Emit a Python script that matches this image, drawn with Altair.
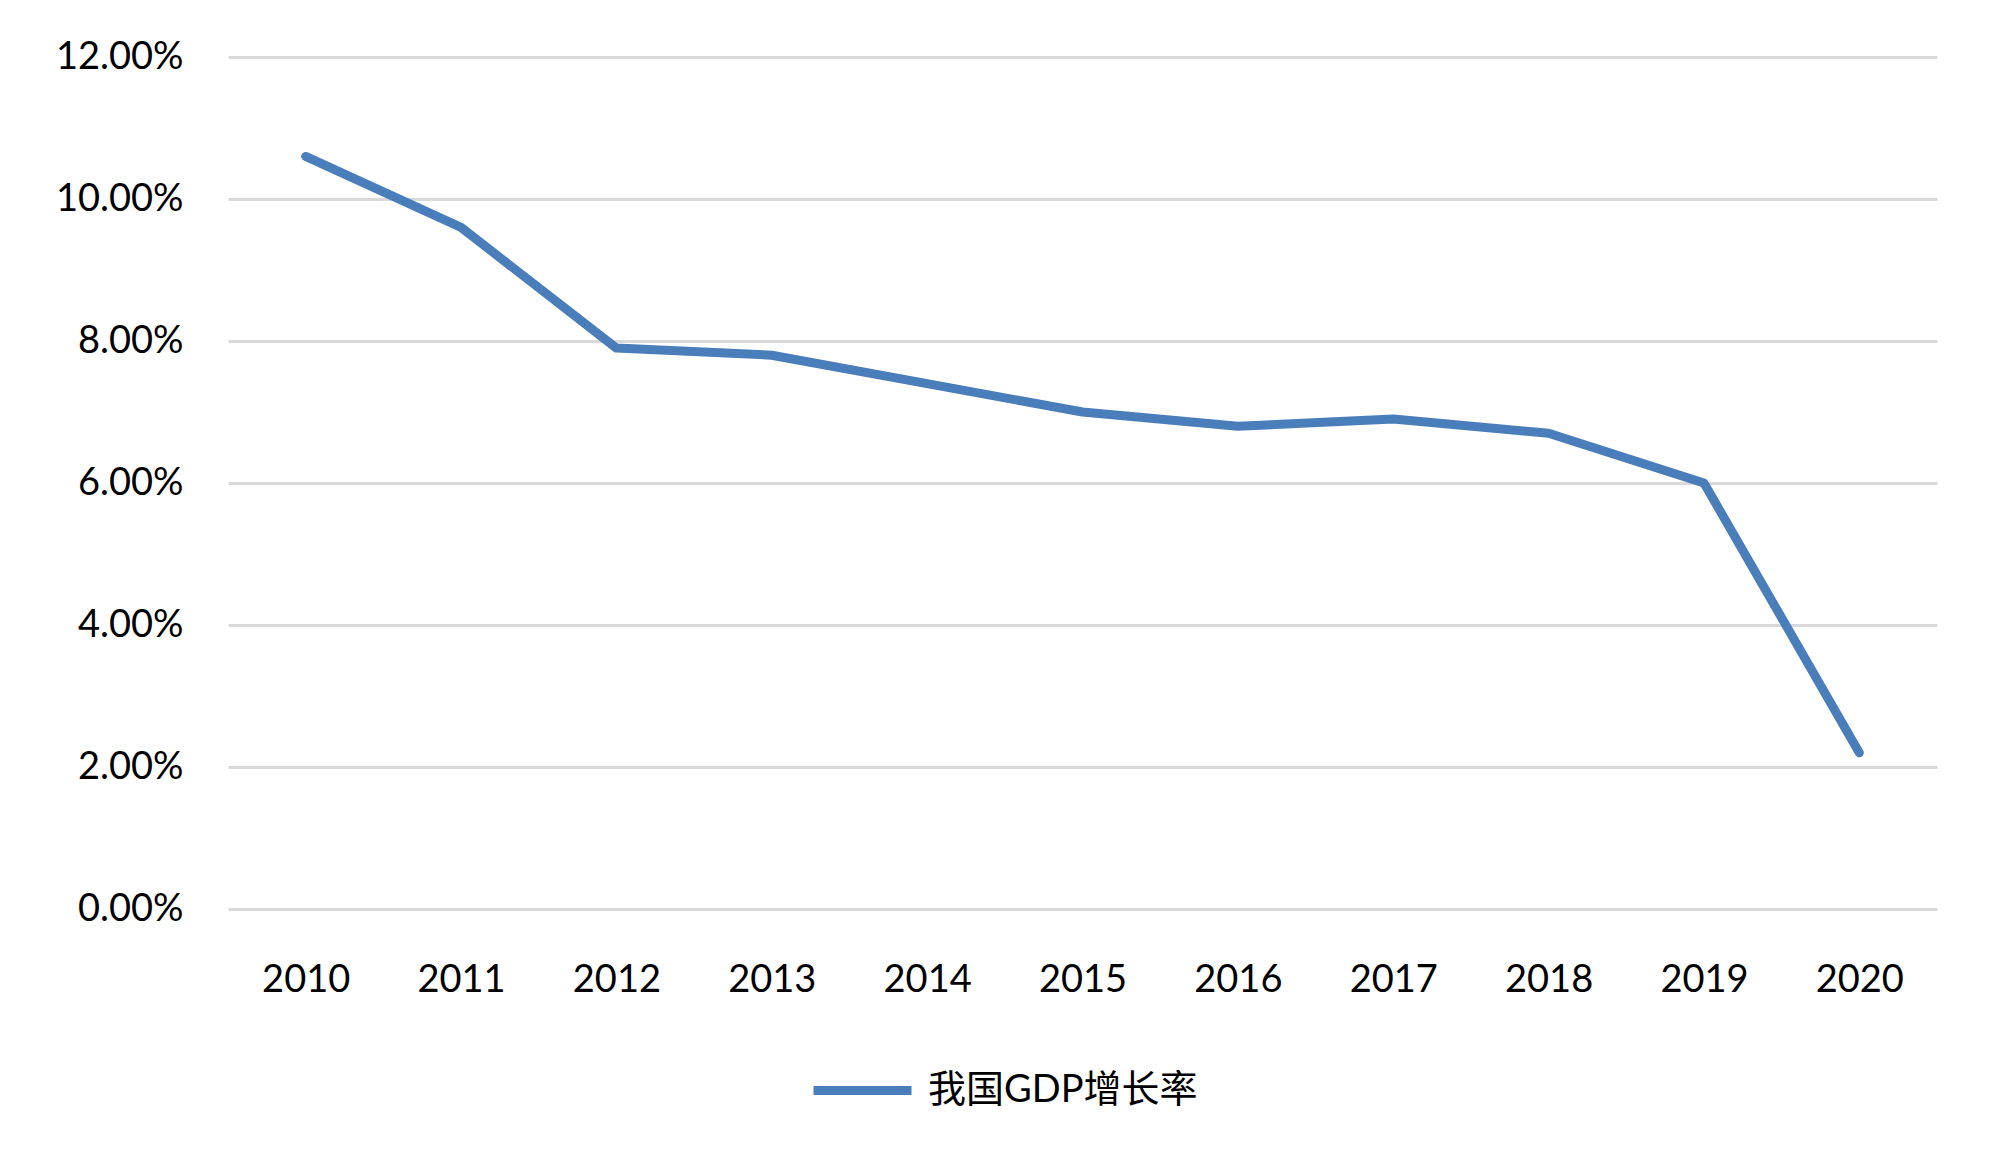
import altair as alt
import pandas as pd

years = ["2010", "2011", "2012", "2013", "2014", "2015", "2016", "2017", "2018", "2019", "2020"]
growth_pct = [10.6, 9.6, 7.9, 7.8, 7.4, 7.0, 6.8, 6.9, 6.7, 6.0, 2.2]
series_name = "我国GDP增长率"

df = pd.DataFrame({
    "year": years,
    "rate": [v / 100 for v in growth_pct],
    "series": [series_name] * len(years),
})

FONT = "Lato, 'Noto Sans CJK SC', sans-serif"

chart = alt.Chart(df).mark_line(strokeWidth=9, strokeCap="round", strokeJoin="round").encode(
    x=alt.X("year:O", title=None, sort=years,
            scale=alt.Scale(type="point", padding=0.5),
            axis=alt.Axis(labelAngle=0, domain=False, ticks=False, grid=False,
                          labelFont=FONT, labelFontSize=38, labelColor="#000000",
                          labelPadding=52)),
    y=alt.Y("rate:Q", title=None,
            scale=alt.Scale(domain=[0, 0.12], nice=False),
            axis=alt.Axis(format=".2%", values=[0, 0.02, 0.04, 0.06, 0.08, 0.10, 0.12],
                          domain=False, ticks=False, grid=True,
                          gridColor="#d9d9d9", gridWidth=3,
                          labelFont=FONT, labelFontSize=38, labelColor="#000000",
                          labelPadding=45)),
    color=alt.Color("series:N", title=None,
                    scale=alt.Scale(domain=[series_name], range=["#4a7ebb"]),
                    legend=alt.Legend(orient="none", legendX=581, legendY=980,
                                      symbolType="stroke", symbolSize=9604,
                                      symbolStrokeWidth=9, labelLimit=0,
                                      labelFont=FONT, labelFontSize=38,
                                      labelColor="#000000", labelOffset=12)),
).properties(
    width=1709,
    height=852,
    background="white",
    autosize=alt.AutoSizeParams(type="none"),
    padding={"left": 220, "top": 49, "right": 50, "bottom": 240},
).configure_view(stroke=None)

chart.save("out.html", embed_options={"renderer": "svg", "actions": False})
